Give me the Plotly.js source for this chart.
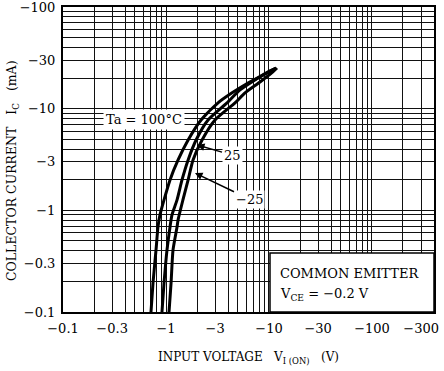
<!DOCTYPE html>
<html><head><meta charset="utf-8">
<script src="https://cdn.plot.ly/plotly-3.0.1.min.js"></script>
<style>html,body{margin:0;padding:0;background:#fff;}#chart{width:444px;height:371px;}</style>
</head><body><div id="chart"></div>
<script>
// Input voltage magnitude |V_I(ON)| (V) and collector current magnitude |I_C| (mA)
const v_100 = [0.715, 0.748, 0.800, 0.836, 0.874, 0.957, 1.094, 1.31, 1.64, 2.19, 3.20, 4.38, 6.25, 8.75, 11.7];
const i_100 = [0.1, 0.193, 0.408, 0.687, 0.902, 1.265, 1.99, 3.13, 4.92, 7.74, 11.4, 14.3, 17.9, 21.4, 25.1];
const v_25 = [0.914, 0.957, 1.023, 1.094, 1.143, 1.28, 1.43, 1.64, 1.96, 2.56, 3.91, 5.23, 7.31, 10.2, 11.7];
const i_25 = [0.1, 0.193, 0.408, 0.687, 0.902, 1.265, 1.99, 3.13, 4.92, 7.74, 11.4, 15.3, 19.2, 23.5, 25.1];
const v_m25 = [1.07, 1.12, 1.17, 1.28, 1.31, 1.46, 1.64, 1.83, 2.24, 2.99, 4.68, 5.85, 8.18, 10.9, 11.96];
const i_m25 = [0.1, 0.193, 0.408, 0.687, 0.805, 1.265, 1.99, 3.13, 4.92, 7.74, 11.4, 14.3, 18.3, 23.0, 25.1];

const xTickVals = [0.1, 0.3, 1, 3, 10, 30, 100, 300];
const xTickText = ["−0.1", "−0.3", "−1", "−3", "−10", "−30", "−100", "−300"];
const yTickVals = [0.1, 0.3, 1, 3, 10, 30, 100];
const yTickText = ["−0.1", "−0.3", "−1", "−3", "−10", "−30", "−100"];
const xMinor = [0.2,0.4,0.5,0.6,0.7,0.8,0.9, 2,4,5,6,7,8,9, 20,40,50,60,70,80,90, 200];
const yMinor = [0.2,0.4,0.5,0.6,0.7,0.8,0.9, 2,4,5,6,7,8,9, 20,40,50,60,70,80,90];

const FONT = "DejaVu Serif, Liberation Serif, serif";
const lineStyle = {color: "#000", width: 3, shape: "spline", smoothing: 0.6};

const traces = [
  {x: v_100, y: i_100, mode: "lines", line: lineStyle, name: "Ta = 100°C", hoverinfo: "skip"},
  {x: v_25, y: i_25, mode: "lines", line: lineStyle, name: "25", hoverinfo: "skip"},
  {x: v_m25, y: i_m25, mode: "lines", line: lineStyle, name: "−25", hoverinfo: "skip"}
];

const axisCommon = {
  type: "log", showline: true, linecolor: "#000", linewidth: 2, mirror: true,
  showgrid: true, gridcolor: "#111", gridwidth: 1, zeroline: false, ticks: "",
  tickmode: "array", tickfont: {family: FONT, size: 13, color: "#000"}, automargin: false,
  ticklabeloverflow: "allow"
};

// plot area: left 63, right 434, top 7, bottom 312
const W = 371, H = 305, L = 63, T = 7;
const px = x => (x - L) / W;
const py = y => (T + H - y) / H;
const tf = {family: FONT, size: 13, color: "#000"};

const layout = {
  width: 444, height: 371,
  margin: {l: 63, r: 10, t: 7, b: 59},
  paper_bgcolor: "#fff", plot_bgcolor: "#fff",
  showlegend: false,
  font: {family: FONT, color: "#000"},
  xaxis: Object.assign({}, axisCommon, {
    range: [-1, Math.log10(400)], tickvals: xTickVals, ticktext: xTickText, ticklabelstandoff: 3,
    minor: {tickmode: "array", tickvals: xMinor, showgrid: true, gridcolor: "#111", gridwidth: 1, ticks: ""},
    title: {text: "INPUT VOLTAGE   V<sub>I (ON)</sub>   (V)", font: {family: FONT, size: 12, color: "#000"}, standoff: 18}
  }),
  yaxis: Object.assign({}, axisCommon, {
    range: [-1, 2], tickvals: yTickVals, ticktext: yTickText, ticklabelstandoff: 3,
    minor: {tickmode: "array", tickvals: yMinor, showgrid: true, gridcolor: "#111", gridwidth: 1, ticks: ""}
  }),
  shapes: [
    {type: "rect", xref: "paper", yref: "paper", x0: px(270), x1: 1, y0: 0, y1: py(253),
     fillcolor: "#fff", line: {color: "#000", width: 1.5}, layer: "above"}
  ],
  annotations: [
    {xref: "paper", yref: "paper", x: -51 / W, y: py(171), xanchor: "center", yanchor: "middle",
     textangle: -90, text: "COLLECTOR CURRENT   I<sub>C</sub>   (mA)", showarrow: false,
     font: {family: FONT, size: 12.5, color: "#000"}},
    {xref: "paper", yref: "paper", x: px(144), y: py(119), xanchor: "center", yanchor: "middle",
     text: "Ta = 100°C", showarrow: false, bgcolor: "#fff", font: tf, borderpad: 2},
    {xref: "paper", yref: "paper", x: px(197), y: py(145), ax: 35, ay: 10, text: "25",
     xanchor: "center", yanchor: "middle",
     showarrow: true, arrowhead: 2, arrowsize: 1, arrowwidth: 1.5, arrowcolor: "#000",
     bgcolor: "#fff", font: tf, borderpad: 1},
    {xref: "paper", yref: "paper", x: px(195), y: py(173), ax: 54, ay: 26, text: "−25",
     xanchor: "center", yanchor: "middle",
     showarrow: true, arrowhead: 2, arrowsize: 1, arrowwidth: 1.5, arrowcolor: "#000",
     bgcolor: "#fff", font: tf, borderpad: 1},
    {xref: "paper", yref: "paper", x: px(278), y: py(273), xanchor: "left", yanchor: "middle",
     text: "COMMON EMITTER", showarrow: false, font: tf},
    {xref: "paper", yref: "paper", x: px(278), y: py(294), xanchor: "left", yanchor: "middle",
     text: "V<sub>CE</sub> = −0.2 V", showarrow: false, font: tf}
  ]
};

Plotly.newPlot("chart", traces, layout, {displayModeBar: false, staticPlot: true});
</script></body></html>
